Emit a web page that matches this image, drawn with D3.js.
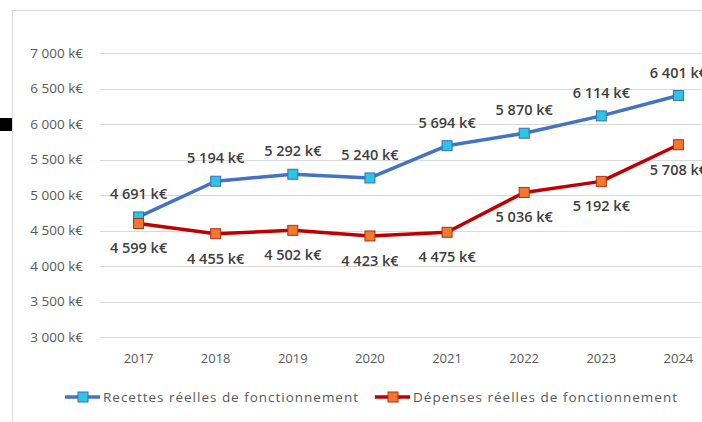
<!DOCTYPE html>
<html>
<head>
<meta charset="utf-8">
<script src="https://cdn.jsdelivr.net/npm/d3@7"></script>
<style>
  body { margin: 0; background: #fff; }
  svg { display: block; font-family: 'Open Sans', sans-serif; }
</style>
</head>
<body>
<svg width="702" height="422"></svg>
<script>
(function(){
	'use strict';

	const years = ['2017', '2018', '2019', '2020', '2021', '2022', '2023', '2024'];
	const recettes = [4691, 5194, 5292, 5240, 5694, 5870, 6114, 6401];
	const depenses = [4599, 4455, 4502, 4423, 4475, 5036, 5192, 5708];
	const yTicks = [3000, 3500, 4000, 4500, 5000, 5500, 6000, 6500, 7000];
	const seriesNames = ['Recettes réelles de fonctionnement', 'Dépenses réelles de fonctionnement'];

	const svg = d3.select('svg');
	const fmt = v => d3.format(',')(v).replace(/,/g, ' ') + ' k€';

	// frame and the stray black mark on the left
	svg.append('line')
		.attr('x1', 12.5).attr('x2', 12.5).attr('y1', 10).attr('y2', 422)
		.attr('stroke', '#d9d9d9');
	svg.append('line')
		.attr('x1', 12).attr('x2', 702).attr('y1', 10.5).attr('y2', 10.5)
		.attr('stroke', '#d9d9d9');
	svg.append('rect')
		.attr('x', 0).attr('y', 118).attr('width', 12).attr('height', 13)
		.attr('fill', '#000');

	const x = d3.scaleBand().domain(years).range([100, 717]);
	const y = d3.scaleLinear().domain([3000, 7000]).range([337, 53]);
	const cx = d => x(d) + x.bandwidth() / 2;

	// gridlines
	svg.append('g')
		.selectAll('line')
		.data(yTicks)
		.join('line')
			.attr('x1', 100).attr('x2', 717)
			.attr('y1', d => Math.round(y(d)) + 0.5)
			.attr('y2', d => Math.round(y(d)) + 0.5)
			.attr('stroke', '#d9d9d9');

	// y labels
	svg.append('g')
		.selectAll('text')
		.data(yTicks)
		.join('text')
			.attr('x', 83)
			.attr('y', d => y(d) + 4.5)
			.attr('text-anchor', 'end')
			.attr('font-size', 13.5)
			.attr('fill', '#595959')
			.text(fmt);

	// x labels
	svg.append('g')
		.selectAll('text')
		.data(years)
		.join('text')
			.attr('x', cx)
			.attr('y', 363)
			.attr('text-anchor', 'middle')
			.attr('font-size', 13)
			.attr('fill', '#595959')
			.text(d => d);

	const series = [
		{ name: seriesNames[0], values: recettes, line: '#4472c4', fill: '#2ec4e6', edge: '#3a6fb0', dy: -18 },
		{ name: seriesNames[1], values: depenses, line: '#c00000', fill: '#f07830', edge: '#b03010', dy: 30 }
	];

	const line = d3.line()
		.x((d, i) => cx(years[i]))
		.y(d => y(d));

	series.forEach(s => {
		svg.append('path')
			.attr('d', line(s.values))
			.attr('fill', 'none')
			.attr('stroke', s.line)
			.attr('stroke-width', 3.5)
			.attr('stroke-linejoin', 'round');
	});

	series.forEach(s => {
		svg.append('g')
			.selectAll('rect')
			.data(s.values)
			.join('rect')
				.attr('x', (d, i) => cx(years[i]) - 5)
				.attr('y', d => y(d) - 5)
				.attr('width', 10).attr('height', 10)
				.attr('fill', s.fill)
				.attr('stroke', s.edge)
				.attr('stroke-width', 1);

		svg.append('g')
			.selectAll('text')
			.data(s.values)
			.join('text')
				.attr('x', (d, i) => cx(years[i]))
				.attr('y', d => y(d) + s.dy)
				.attr('text-anchor', 'middle')
				.attr('font-size', 14.5)
				.attr('font-weight', 600)
				.attr('fill', '#404040')
				.text(fmt);
	});

	// legend
	const legendX = [65, 375];
	series.forEach((s, i) => {
		const g = svg.append('g').attr('transform', `translate(${legendX[i]}, 397)`);
		g.append('line')
			.attr('x1', 0).attr('x2', 35)
			.attr('stroke', s.line)
			.attr('stroke-width', 3.5);
		g.append('rect')
			.attr('x', 13).attr('y', -5)
			.attr('width', 10).attr('height', 10)
			.attr('fill', s.fill)
			.attr('stroke', s.edge);
		g.append('text')
			.attr('x', 38)
			.attr('y', 5)
			.attr('font-size', 13.5)
			.attr('fill', '#595959')
			.attr('textLength', i === 0 ? 255 : 264)
			.attr('lengthAdjust', 'spacing')
			.text(s.name);
	});
})();
</script>
</body>
</html>
